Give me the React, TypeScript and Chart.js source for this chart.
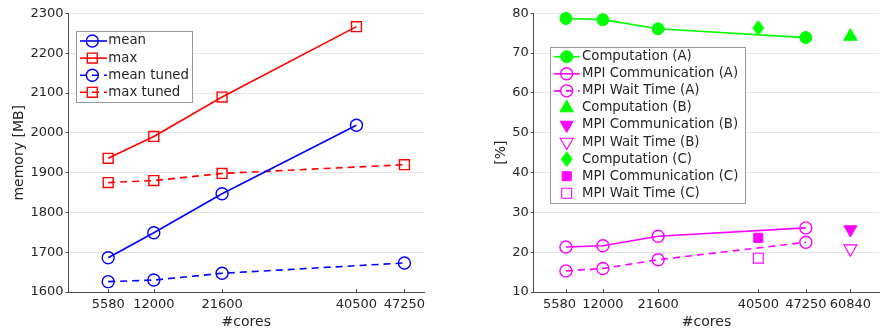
import React, { useEffect, useRef } from 'react';
import { Chart, registerables } from 'chart.js';
import { drawPoint } from 'chart.js/helpers';

Chart.register(...registerables);

// ---------- data ----------
const leftTickValues = [5580, 12000, 21600, 40500, 47250];
const meanCores = [5580, 12000, 21600, 40500];
const tunedCores = [5580, 12000, 21600, 47250];
const memMean = [1686, 1749, 1847, 2019];
const memMax = [1936, 1991, 2090, 2267];
const memMeanTuned = [1626, 1630, 1647, 1673];
const memMaxTuned = [1875, 1880, 1898, 1920];

const rightTickLabels = ['5580', '12000', '21600', '40500', '47250', '60840'];
const rightTickPos = [5580, 12000, 21600, 39000, 47250, 55000];
const runACores = [5580, 12000, 21600, 47250];
const compA = [78.7, 78.4, 76.1, 73.9];
const mpiCommA = [21.3, 21.6, 24.0, 26.1];
const mpiWaitA = [15.3, 15.9, 18.1, 22.5];
const runBCore = 55000;
const compB = 74.2;
const mpiCommB = 25.7;
const mpiWaitB = 20.9;
const runCCore = 39000;
const compC = 76.3;
const mpiCommC = 23.6;
const mpiWaitC = 18.5;

// ---------- styles ----------
const FONT = "'DejaVu Sans', sans-serif";
const TEXT = '#262626';
const AXIS = '#4d4d4d';
const GRID = '#e6e6e6';
const BLUE = '#0000ff';
const RED = '#ff0000';
const GREEN = '#00ff00';
const MAGENTA = '#ff00ff';
const NONE = 'rgba(0,0,0,0)';
const LW = 1.6;
const DASH = [7, 5];

const pts = (xs: number[], ys: number[]) => xs.map((x, i) => ({ x, y: ys[i] }));

function makeDiamond(color: string) {
  const c = document.createElement('canvas');
  c.width = 13;
  c.height = 17;
  const g = c.getContext('2d')!;
  g.fillStyle = color;
  g.beginPath();
  g.moveTo(6.5, 0.5);
  g.lineTo(12.5, 8.5);
  g.lineTo(6.5, 16.5);
  g.lineTo(0.5, 8.5);
  g.closePath();
  g.fill();
  return c;
}

const innerTicks = {
  id: 'innerTicks',
  afterDraw(chart: any) {
    const s = chart.scales.x;
    const ctx = chart.ctx;
    ctx.save();
    ctx.strokeStyle = AXIS;
    ctx.lineWidth = 1;
    s.ticks.forEach((t: any) => {
      const px = Math.round(s.getPixelForValue(t.value)) + 0.5;
      ctx.beginPath();
      ctx.moveTo(px, s.top);
      ctx.lineTo(px, s.top - 3);
      ctx.stroke();
    });
    ctx.restore();
  },
};

function makeLegend(box: any) {
  return {
    id: 'boxLegend',
    afterDraw(chart: any) {
      const ctx = chart.ctx;
      const { x, y, w, h, firstRow, rowH, lineX0, lineX1, markerX, textX } = box;
      ctx.save();
      ctx.fillStyle = '#ffffff';
      ctx.fillRect(x, y, w, h);
      ctx.strokeStyle = '#999999';
      ctx.lineWidth = 1;
      ctx.strokeRect(Math.round(x) + 0.5, Math.round(y) + 0.5, Math.round(w), Math.round(h));
      chart.data.datasets.forEach((ds: any, i: number) => {
        const cy = y + firstRow + i * rowH;
        if (ds.showLine) {
          ctx.strokeStyle = ds.borderColor;
          ctx.lineWidth = LW;
          ctx.setLineDash(ds.borderDash || []);
          ctx.beginPath();
          ctx.moveTo(x + lineX0, cy);
          ctx.lineTo(x + lineX1, cy);
          ctx.stroke();
          ctx.setLineDash([]);
        }
        ctx.fillStyle = ds.pointBackgroundColor;
        ctx.strokeStyle = ds.pointBorderColor;
        ctx.lineWidth = ds.pointBorderWidth;
        drawPoint(
          ctx,
          {
            pointStyle: ds.pointStyle,
            rotation: ds.pointRotation || 0,
            radius: ds.pointRadius,
            borderWidth: ds.pointBorderWidth,
          } as any,
          x + markerX,
          cy
        );
        ctx.fillStyle = TEXT;
        ctx.font = `13.3px ${FONT}`;
        ctx.textBaseline = 'middle';
        ctx.textAlign = 'left';
        ctx.fillText(ds.label, x + textX, cy);
      });
      ctx.restore();
    },
  };
}

function fixX(h: number) {
  return (s: any) => {
    s.height = h;
    s.paddingLeft = 0;
    s.paddingRight = 0;
  };
}
function fixY(w: number) {
  return (s: any) => {
    s.width = w;
    s.paddingTop = 0;
    s.paddingBottom = 0;
  };
}

function line(label: string, data: any[], color: string, style: any, radius: number, filled: boolean, dashed: boolean) {
  return {
    label,
    data,
    showLine: true,
    borderColor: color,
    borderWidth: LW,
    borderDash: dashed ? DASH : [],
    pointStyle: style,
    pointRadius: radius,
    pointBorderWidth: filled ? 1 : 1.4,
    pointBackgroundColor: filled ? color : NONE,
    pointBorderColor: color,
    clip: false,
  };
}
function single(label: string, data: any[], color: string, style: any, radius: number, filled: boolean, rotation = 0) {
  return {
    label,
    data,
    showLine: false,
    borderColor: color,
    pointStyle: style,
    pointRotation: rotation,
    pointRadius: radius,
    pointBorderWidth: filled ? 1 : 1.1,
    pointBackgroundColor: filled ? color : NONE,
    pointBorderColor: color,
    clip: false,
  };
}

const tickFont = { family: FONT, size: 13 };
const titleFont = { family: FONT, size: 14, lineHeight: 1 };

export default function App() {
  const leftRef = useRef<HTMLCanvasElement>(null);
  const rightRef = useRef<HTMLCanvasElement>(null);

  useEffect(() => {
    const left = new Chart(leftRef.current!, {
      type: 'scatter',
      data: {
        datasets: [
          line('mean', pts(meanCores, memMean), BLUE, 'circle', 6, false, false),
          line('max', pts(meanCores, memMax), RED, 'rect', 7, false, false),
          line('mean tuned', pts(tunedCores, memMeanTuned), BLUE, 'circle', 6, false, true),
          line('max tuned', pts(tunedCores, memMaxTuned), RED, 'rect', 7, false, true),
        ] as any,
      },
      options: {
        animation: false,
        responsive: false,
        events: [],
        layout: { padding: { top: 13.5, right: 19, bottom: 0, left: 0 } },
        plugins: { legend: { display: false }, tooltip: { enabled: false } },
        scales: {
          x: {
            type: 'linear',
            min: 0,
            max: 50000,
            afterBuildTicks: (a: any) => {
              a.ticks = leftTickValues.map((v) => ({ value: v }));
            },
            afterFit: fixX(37),
            ticks: {
              autoSkip: false,
              maxRotation: 0,
              minRotation: 0,
              padding: 5,
              color: TEXT,
              font: tickFont,
              callback: (v: any) => String(v),
            },
            grid: { display: false, drawTicks: false, tickLength: 0 },
            border: { display: true, color: AXIS, width: 1 },
            title: { display: true, text: '#cores', color: TEXT, font: titleFont, padding: 0 },
          },
          y: {
            type: 'linear',
            min: 1600,
            max: 2300,
            afterFit: fixY(68.5),
            ticks: { stepSize: 100, padding: 2, color: TEXT, font: tickFont, callback: (v: any) => String(v) },
            grid: { color: GRID, tickLength: 3, tickColor: AXIS, drawTicks: true },
            border: { display: true, color: AXIS, width: 1 },
            title: {
              display: true,
              text: 'memory [MB]',
              color: TEXT,
              font: titleFont,
              padding: { top: 12, bottom: 0 },
            },
          },
        },
      } as any,
      plugins: [
        innerTicks,
        makeLegend({ x: 76, y: 31, w: 116, h: 71, firstRow: 10, rowH: 17.1, lineX0: 4, lineX1: 31, markerX: 16.3, textX: 32.3 }),
      ],
    });

    const diamond = makeDiamond(GREEN);
    const right = new Chart(rightRef.current!, {
      type: 'scatter',
      data: {
        datasets: [
          line('Computation (A)', pts(runACores, compA), GREEN, 'circle', 6, true, false),
          line('MPI Communication (A)', pts(runACores, mpiCommA), MAGENTA, 'circle', 6, false, false),
          line('MPI Wait Time (A)', pts(runACores, mpiWaitA), MAGENTA, 'circle', 6, false, true),
          single('Computation (B)', [{ x: runBCore, y: compB }], GREEN, 'triangle', 7.8, true),
          single('MPI Communication (B)', [{ x: runBCore, y: mpiCommB }], MAGENTA, 'triangle', 7.5, true, 180),
          single('MPI Wait Time (B)', [{ x: runBCore, y: mpiWaitB }], MAGENTA, 'triangle', 7.5, false, 180),
          single('Computation (C)', [{ x: runCCore, y: compC }], GREEN, diamond, 7, true),
          single('MPI Communication (C)', [{ x: runCCore, y: mpiCommC }], MAGENTA, 'rect', 6.4, true),
          single('MPI Wait Time (C)', [{ x: runCCore, y: mpiWaitC }], MAGENTA, 'rect', 7, false),
        ] as any,
      },
      options: {
        animation: false,
        responsive: false,
        events: [],
        layout: { padding: { top: 13.3, right: 0, bottom: 0, left: 0 } },
        plugins: { legend: { display: false }, tooltip: { enabled: false } },
        scales: {
          x: {
            type: 'linear',
            min: 0,
            max: 60000,
            afterBuildTicks: (a: any) => {
              a.ticks = rightTickPos.map((v) => ({ value: v }));
            },
            afterFit: fixX(37),
            ticks: {
              autoSkip: false,
              maxRotation: 0,
              minRotation: 0,
              padding: 5,
              color: TEXT,
              font: tickFont,
              callback: (v: any) => {
                const i = rightTickPos.indexOf(Number(v));
                if (i < 0) return '';
                // first label nudged left (trailing spaces) so it does not touch its neighbour
                return i === 0 ? rightTickLabels[i] + '\u2002\u2002' : rightTickLabels[i];
              },
            },
            grid: { display: false, drawTicks: false, tickLength: 0 },
            border: { display: true, color: AXIS, width: 1 },
            title: { display: true, text: '#cores', color: TEXT, font: titleFont, padding: 0 },
          },
          y: {
            type: 'linear',
            min: 10,
            max: 80,
            afterFit: fixY(90.8),
            ticks: { stepSize: 10, padding: 2, color: TEXT, font: tickFont },
            grid: { color: GRID, tickLength: 3, tickColor: AXIS, drawTicks: true },
            border: { display: true, color: AXIS, width: 1 },
            title: {
              display: true,
              text: '[%]',
              color: TEXT,
              font: titleFont,
              padding: { top: 51.3, bottom: 0 },
            },
          },
        },
      } as any,
      plugins: [
        innerTicks,
        makeLegend({ x: 106.7, y: 46.7, w: 195, h: 156, firstRow: 10, rowH: 17.07, lineX0: 4.3, lineX1: 30, markerX: 17, textX: 32.3 }),
      ],
    });

    return () => {
      left.destroy();
      right.destroy();
    };
  }, []);

  return (
    <div
      style={{
        position: 'fixed',
        left: 0,
        top: 0,
        width: 886,
        height: 329,
        overflow: 'hidden',
        background: '#ffffff',
      }}
    >
      <canvas
        ref={leftRef}
        width={443}
        height={329}
        style={{ position: 'absolute', left: 0, top: 0, width: 443, height: 329 }}
      />
      <canvas
        ref={rightRef}
        width={445}
        height={329}
        style={{ position: 'absolute', left: 443, top: 0, width: 445, height: 329 }}
      />
    </div>
  );
}
